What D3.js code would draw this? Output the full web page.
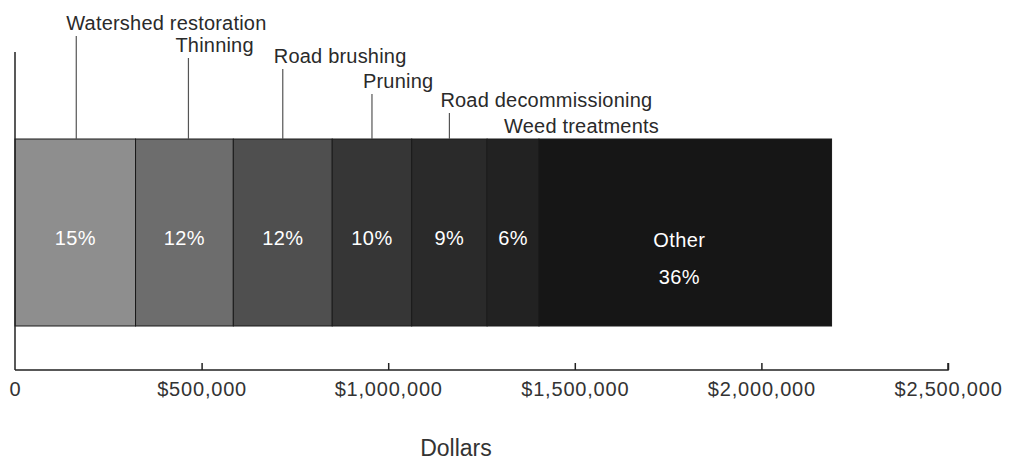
<!DOCTYPE html>
<html>
<head>
<meta charset="utf-8">
<script src="https://cdn.jsdelivr.net/npm/d3@7"></script>
<style>
  html, body { margin: 0; padding: 0; background: #fff; }
  svg { display: block; font-family: "Liberation Sans", Arial, sans-serif; }
</style>
</head>
<body>
<svg id="chart" width="1009" height="463"></svg>
<script>
// Data
const categories = ["Watershed restoration", "Thinning", "Road brushing", "Pruning",
                    "Road decommissioning", "Weed treatments", "Other"];
const dollars = [323000, 262000, 265000, 213000, 202000, 139000, 784000];
const percentLabels = ["15%", "12%", "12%", "10%", "9%", "6%", "36%"];
const fills = ["#8e8e8e", "#6d6d6d", "#4f4f4f", "#363636", "#2a2a2a", "#222222", "#161616"];
const tickValues = [0, 500000, 1000000, 1500000, 2000000, 2500000];
const tickLabels = ["0", "$500,000", "$1,000,000", "$1,500,000", "$2,000,000", "$2,500,000"];
const axisTitle = "Dollars";

// Layout
const svg = d3.select("#chart");
const x = d3.scaleLinear().domain([0, 2500000]).range([15, 948]);
const barTop = 139, barBottom = 326, axisY = 370;

// stacking
let cum = 0;
const segs = dollars.map((v, i) => {
  const s = { i, name: categories[i], x0: cum, x1: cum + v, pct: percentLabels[i], fill: fills[i] };
  cum += v;
  return s;
});

// callout text baselines and small leader nudges
const calloutY = [30, 52, 63, 88, 107, 133];
const leaderNudge = [1, 4, 0, 0, 0, 0];

// bar segments
svg.append("g").selectAll("rect").data(segs).join("rect")
  .attr("x", d => x(d.x0))
  .attr("y", barTop)
  .attr("width", d => x(d.x1) - x(d.x0))
  .attr("height", barBottom - barTop)
  .attr("fill", d => d.fill)
  .attr("stroke", "#1a1a1a")
  .attr("stroke-width", 1);

// percent labels
const inner = segs.filter(d => d.name !== "Other");
svg.append("g").selectAll("text").data(inner).join("text")
  .attr("x", d => (x(d.x0) + x(d.x1)) / 2)
  .attr("y", 245)
  .attr("text-anchor", "middle")
  .attr("fill", "#fff")
  .attr("font-size", 20)
  .attr("letter-spacing", 0.4)
  .text(d => d.pct);

const other = segs[segs.length - 1];
const ocx = (x(other.x0) + x(other.x1)) / 2 - 6;
svg.append("text").attr("x", ocx).attr("y", 247).attr("text-anchor", "middle")
  .attr("fill", "#fff").attr("font-size", 20).attr("letter-spacing", 0.4).text(other.name);
svg.append("text").attr("x", ocx).attr("y", 284).attr("text-anchor", "middle")
  .attr("fill", "#fff").attr("font-size", 20).attr("letter-spacing", 0.4).text(other.pct);

// callouts
const callouts = svg.append("g");
inner.forEach((d, i) => {
  const cx = (x(d.x0) + x(d.x1)) / 2 + leaderNudge[i];
  callouts.append("line")
    .attr("x1", cx).attr("x2", cx)
    .attr("y1", calloutY[i] + 6).attr("y2", barTop)
    .attr("stroke", "#555").attr("stroke-width", 1.2);
  callouts.append("text")
    .attr("x", cx - 9 - leaderNudge[i]).attr("y", calloutY[i])
    .attr("fill", "#2a2a2a").attr("font-size", 20)
    .attr("letter-spacing", 0.2)
    .text(d.name);
});

// axes
const axis = d3.axisBottom(x).tickValues(tickValues).tickSize(-7)
  .tickFormat((d, i) => tickLabels[i]);
const gx = svg.append("g").attr("transform", `translate(0,${axisY})`).call(axis);
gx.select(".domain").attr("d", `M${x(0)},0H${x(2500000)}V-7`).attr("stroke", "#222").attr("stroke-width", 1.5);
gx.selectAll(".tick line").attr("stroke", "#222").attr("stroke-width", 1.5);
gx.selectAll(".tick text")
  .attr("font-family", "Liberation Sans, Arial, sans-serif")
  .attr("font-size", 20).attr("fill", "#333").attr("dy", "0")
  .attr("y", 26).attr("letter-spacing", 0.8);
gx.selectAll(".tick").filter(d => d === 0).select("line").remove();

// y axis line
svg.append("line").attr("x1", x(0)).attr("x2", x(0)).attr("y1", 52).attr("y2", axisY)
  .attr("stroke", "#222").attr("stroke-width", 1.5);

// axis title
svg.append("text").attr("x", 456).attr("y", 456).attr("text-anchor", "middle")
  .attr("font-size", 23).attr("fill", "#333").text(axisTitle);
</script>
</body>
</html>
